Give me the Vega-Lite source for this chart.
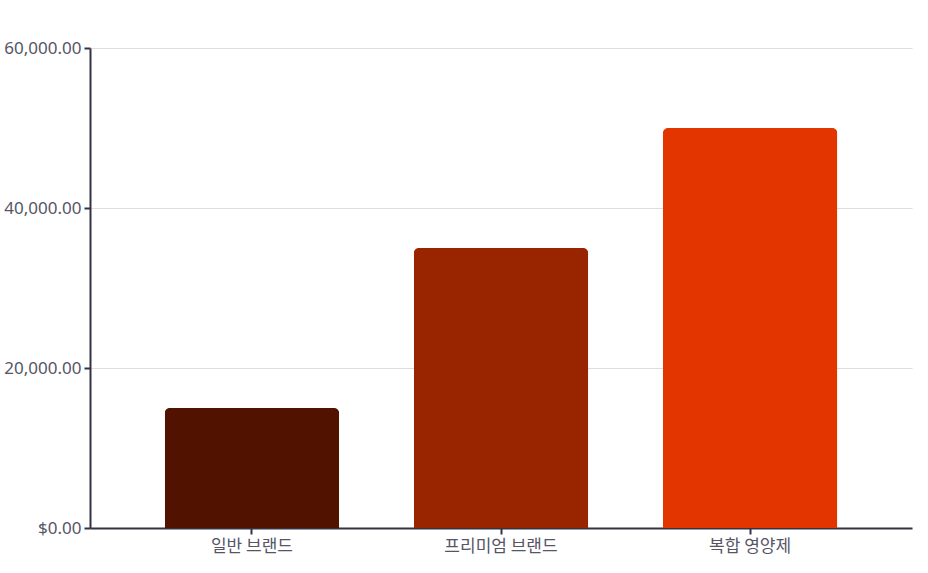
{
  "$schema": "https://vega.github.io/schema/vega-lite/v6.json",
  "autosize": {"type": "none"},
  "padding": {"left": 90, "top": 48, "right": 16, "bottom": 45},
  "width": 822,
  "height": 480,
  "background": "white",
  "data": {
    "values": [
      {"category": "일반 브랜드", "value": 15000},
      {"category": "프리미엄 브랜드", "value": 35000},
      {"category": "복합 영양제", "value": 50000}
    ]
  },
  "mark": {"type": "bar", "cornerRadiusTopLeft": 5, "cornerRadiusTopRight": 5},
  "encoding": {
    "x": {
      "field": "category",
      "type": "nominal",
      "sort": null,
      "scale": {"paddingInner": 0.3, "paddingOuter": 0.3},
      "axis": {
        "title": null,
        "labelAngle": 0,
        "labelFont": "Noto Sans CJK KR",
        "labelFontSize": 17,
        "labelColor": "#555566",
        "labelPadding": 4,
        "domainColor": "#333344",
        "domainWidth": 2,
        "tickColor": "#333344",
        "tickWidth": 2,
        "tickSize": 6,
        "grid": false
      }
    },
    "y": {
      "field": "value",
      "type": "quantitative",
      "scale": {"domain": [0, 60000]},
      "axis": {
        "title": null,
        "values": [0, 20000, 40000, 60000],
        "labelExpr": "datum.value === 0 ? '$0.00' : format(datum.value, ',.2f')",
        "labelFont": "Noto Sans",
        "labelFontSize": 17,
        "labelColor": "#555566",
        "labelPadding": 3,
        "domainColor": "#333344",
        "domainWidth": 2,
        "tickColor": "#333344",
        "tickWidth": 2,
        "tickSize": 6,
        "gridColor": "#dddddd",
        "gridWidth": 1
      }
    },
    "color": {
      "field": "category",
      "type": "nominal",
      "sort": null,
      "scale": {
        "domain": ["일반 브랜드", "프리미엄 브랜드", "복합 영양제"],
        "range": ["#511300", "#992400", "#e23500"]
      },
      "legend": null
    }
  },
  "config": {"view": {"stroke": null}}
}
